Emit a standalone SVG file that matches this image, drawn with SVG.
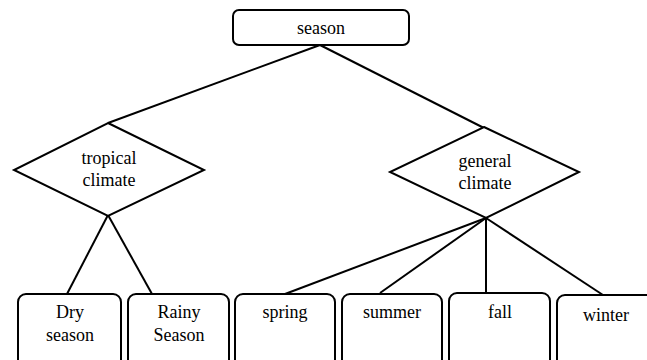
<svg xmlns="http://www.w3.org/2000/svg" width="647" height="360" viewBox="0 0 647 360">
<style>
.box{fill:#fff;stroke:#000;stroke-width:2}
.t{font-family:'Liberation Serif','Times New Roman','DejaVu Serif',serif;font-size:18px;fill:#000;text-anchor:middle}
.c line{stroke:#000;stroke-width:2}
</style>
<rect width="647" height="360" fill="#fff"/>
<g class="c" id="connectors">
<line x1="320" y1="45" x2="108" y2="123"/>
<line x1="320" y1="45" x2="484" y2="128"/>
<line x1="108" y1="215" x2="67" y2="294"/>
<line x1="108" y1="215" x2="152" y2="294"/>
<line x1="486" y1="218" x2="285" y2="294"/>
<line x1="486" y1="218" x2="380" y2="293"/>
<line x1="486" y1="218" x2="486" y2="293"/>
<line x1="486" y1="218" x2="603" y2="295"/>
</g>
<g id="season"><rect class="box" x="233" y="10" width="176" height="35" rx="6"/><text class="t" font-family="Liberation Serif, serif" x="321" y="34">season</text></g>
<g id="tropical"><polygon class="box" points="108,123 204,170 108,216 14,170"/><text class="t" font-family="Liberation Serif, serif" x="109" y="164">tropical</text><text class="t" font-family="Liberation Serif, serif" x="109" y="186">climate</text></g>
<g id="general"><polygon class="box" points="484,127 579,172 486,218 390,172"/><text class="t" font-family="Liberation Serif, serif" x="485" y="167">general</text><text class="t" font-family="Liberation Serif, serif" x="485" y="189">climate</text></g>
<g id="dry"><rect class="box" x="18" y="294" width="103" height="80" rx="8"/><text class="t" font-family="Liberation Serif, serif" x="70" y="318">Dry</text><text class="t" font-family="Liberation Serif, serif" x="70" y="341">season</text></g>
<g id="rainy"><rect class="box" x="128" y="294" width="101" height="80" rx="8"/><text class="t" font-family="Liberation Serif, serif" x="179" y="318">Rainy</text><text class="t" font-family="Liberation Serif, serif" x="179" y="341">Season</text></g>
<g id="spring"><rect class="box" x="235" y="294" width="100" height="80" rx="8"/><text class="t" font-family="Liberation Serif, serif" x="285" y="318">spring</text></g>
<g id="summer"><rect class="box" x="342" y="294" width="100" height="80" rx="8"/><text class="t" font-family="Liberation Serif, serif" x="392" y="318">summer</text></g>
<g id="fall"><rect class="box" x="449" y="293" width="101" height="80" rx="8"/><text class="t" font-family="Liberation Serif, serif" x="500" y="318">fall</text></g>
<g id="winter"><rect class="box" x="557" y="295" width="100" height="80" rx="8"/><text class="t" font-family="Liberation Serif, serif" x="606" y="321">winter</text></g>
</svg>
